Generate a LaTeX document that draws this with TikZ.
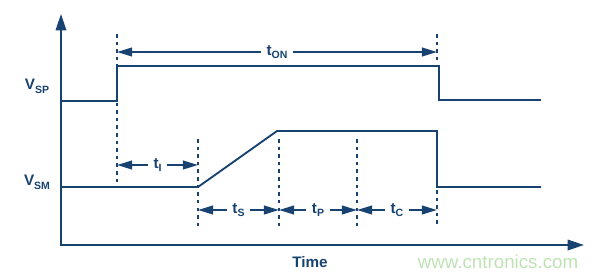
\documentclass[tikz,border=0pt]{standalone}
\usepackage{fontspec}
\setmainfont{Liberation Sans}
\usetikzlibrary{arrows.meta}
\definecolor{adiblue}{RGB}{24,66,112}
\definecolor{wmgreen}{RGB}{190,226,180}
\newcommand\lowsub[1]{\raisebox{-0.45ex}{\fontsize{9}{10}\selectfont #1}}

\begin{document}
\begin{tikzpicture}[
  x=0.03cm, y=-0.03cm,
  >={Triangle[length=13pt,width=7.5pt]},
  sig/.style={adiblue, line width=1.6pt},
  axis/.style={adiblue, line width=1.6pt, >={Triangle[length=14pt,width=9pt]}},
  guide/.style={adiblue, line width=1.3pt, dash pattern=on 3pt off 3.5pt},
  dim/.style={adiblue, line width=1.6pt, <->},
  lab/.style={text=adiblue, font=\bfseries\fontsize{13}{15}\selectfont, inner sep=1pt},
  dimlab/.style={lab, fill=white, inner xsep=5pt}
]
  \useasboundingbox (0,0) rectangle (600,278);

  % axes
  \coordinate (ytop) at (61,14);
  \coordinate (xend) at (584,245);
  \draw[axis, <->] (ytop) |- (xend);

  % signals
  \draw[sig] (61,101) -- (117,101) -- (117,66) -- (439,66) -- (439,100) -- (541,100);
  \draw[sig] (61,187) -- (198,187) -- (277,131) -- (437,131) -- (437,187) -- (541,187);

  % guide lines
  \draw[guide] (117,34) -- (117,183);
  \draw[guide] (437,34) -- (437,61);
  \draw[guide] (437,190) -- (437,226);
  \draw[guide] (198,139) -- (198,226);
  \draw[guide] (279,139) -- (279,226);
  \draw[guide] (357,139) -- (357,226);

  % time marks
  \coordinate (on-l) at (117,52);
  \coordinate (on-r) at (437,52);
  \coordinate (i-l) at (117,165);
  \coordinate (i-r) at (198,165);
  \coordinate (s-l) at (198,210);
  \coordinate (s-r) at (279,210);
  \coordinate (p-r) at (357,210);
  \coordinate (c-r) at (437,210);

  \draw[dim] (on-l) -- node[dimlab] (ton) {t\lowsub{ON}} (on-r);
  \draw[dim] (i-l) -- node[dimlab] (ti) {t\lowsub{I}} (i-r);
  \draw[dim] (s-l) -- node[dimlab] (ts) {t\lowsub{S}} (s-r);
  \draw[dim] (s-r) -- node[dimlab] (tp) {t\lowsub{P}} (p-r);
  \draw[dim] (p-r) -- node[dimlab] (tc) {t\lowsub{C}} (c-r);

  % labels
  \node[lab] (vsp) at (37,86) {V\lowsub{SP}};
  \node[lab] (vsm) at (37,182) {V\lowsub{SM}};
  \node[lab] (time) at (310,262) {Time};
  \node[text=wmgreen, font=\fontsize{16}{18}\selectfont, inner sep=0pt] (wm) at (498,262) {www.cntronics.com};
\end{tikzpicture}
\end{document}
